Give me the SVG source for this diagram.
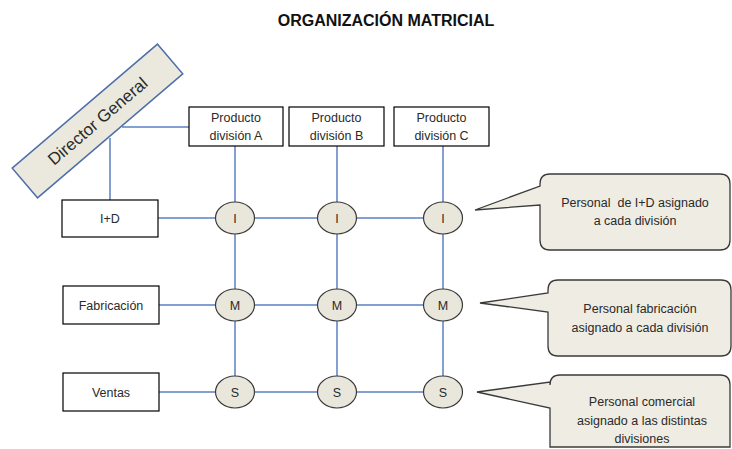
<svg xmlns="http://www.w3.org/2000/svg" width="732" height="449" viewBox="0 0 732 449">
<style>
text{font-family:"Liberation Sans",Arial,sans-serif;fill:#2a2a2a;text-anchor:middle}
.t{font-size:12.5px}
.box{fill:#fff;stroke:#000;stroke-width:1.2}
.c{fill:#e9e7dc;stroke:#3a3a3a;stroke-width:1.2}
.ln{stroke:#5b80c0;stroke-width:1.5;fill:none}
.call{fill:#eeece3;stroke:#3a3a3a;stroke-width:1.3}
</style>
<rect width="732" height="449" fill="#fff"/>
<text x="386" y="26" style="font-size:16px;font-weight:bold;fill:#111">ORGANIZACIÓN MATRICIAL</text>
<g id="connectors" class="ln">
<line x1="122" y1="127" x2="189" y2="127"/>
<line x1="110" y1="138" x2="110" y2="200"/>
<line x1="235" y1="146" x2="235" y2="392"/>
<line x1="337" y1="146" x2="337" y2="392"/>
<line x1="443" y1="146" x2="443" y2="392"/>
<line x1="158" y1="218" x2="443" y2="218"/>
<line x1="159" y1="305" x2="443" y2="305"/>
<line x1="159" y1="392" x2="443" y2="392"/>
</g>
<g id="director">
<rect x="2" y="101.5" width="191" height="39" class="c" style="fill:#ebe9de;stroke:#4f6fa8;stroke-width:1.5" transform="rotate(-40.5 97.5 121)"/>
<text x="97.5" y="127" style="font-size:17px" transform="rotate(-40.5 97.5 121)">Director General</text>
</g>
<g id="prodA"><rect x="189" y="107" width="94" height="39" class="box"/><text class="t" x="236" y="122">Producto</text><text class="t" x="236" y="140">división A</text></g>
<g id="prodB"><rect x="289" y="107" width="95" height="39" class="box"/><text class="t" x="336.5" y="122">Producto</text><text class="t" x="336.5" y="140">división B</text></g>
<g id="prodC"><rect x="394" y="107" width="95" height="39" class="box"/><text class="t" x="441.5" y="122">Producto</text><text class="t" x="441.5" y="140">división C</text></g>
<g id="id"><rect x="62" y="200" width="96" height="37" class="box"/><text class="t" x="110" y="223">I+D</text></g>
<g id="fab"><rect x="63" y="286" width="96" height="38" class="box"/><text class="t" x="111" y="310">Fabricación</text></g>
<g id="ventas"><rect x="63" y="373" width="96" height="38" class="box"/><text class="t" x="111" y="397">Ventas</text></g>
<g id="iA"><ellipse cx="235" cy="218" rx="19.5" ry="16" class="c"/><text class="t" x="235" y="222.5">I</text></g>
<g id="iB"><ellipse cx="337" cy="218" rx="19.5" ry="16" class="c"/><text class="t" x="337" y="222.5">I</text></g>
<g id="iC"><ellipse cx="443" cy="218" rx="19.5" ry="16" class="c"/><text class="t" x="443" y="222.5">I</text></g>
<g id="mA"><ellipse cx="235" cy="305" rx="19.5" ry="16" class="c"/><text class="t" x="235" y="309.5">M</text></g>
<g id="mB"><ellipse cx="337" cy="305" rx="19.5" ry="16" class="c"/><text class="t" x="337" y="309.5">M</text></g>
<g id="mC"><ellipse cx="443" cy="305" rx="19.5" ry="16" class="c"/><text class="t" x="443" y="309.5">M</text></g>
<g id="sA"><ellipse cx="235" cy="392" rx="19.5" ry="16" class="c"/><text class="t" x="235" y="396.5">S</text></g>
<g id="sB"><ellipse cx="337" cy="392" rx="19.5" ry="16" class="c"/><text class="t" x="337" y="396.5">S</text></g>
<g id="sC"><ellipse cx="443" cy="392" rx="19.5" ry="16" class="c"/><text class="t" x="443" y="396.5">S</text></g>
<g id="callout1">
<path class="call" d="M550,174 H720 Q730,174 730,184 V240 Q730,250 720,250 H550 Q540,250 540,240 V205 L475,210 L540,186 V184 Q540,174 550,174 Z"/>
<text class="t" x="635" y="207" xml:space="preserve" style="white-space:pre">Personal  de I+D asignado</text>
<text class="t" x="635" y="225">a cada división</text>
</g>
<g id="callout2">
<path class="call" d="M558,280 H721 Q731,280 731,290 V346 Q731,356 721,356 H558 Q548,356 548,346 V312 L480,303 L548,293 V290 Q548,280 558,280 Z"/>
<text class="t" x="640" y="313">Personal fabricación</text>
<text class="t" x="640" y="332">asignado a cada división</text>
</g>
<g id="callout3">
<path class="call" d="M560,375 H720 Q730,375 730,385 V447 H550 V408 L477,392 L550,382 V385 Q550,375 560,375 Z"/>
<text class="t" x="642" y="406">Personal comercial</text>
<text class="t" x="642" y="425">asignado a las distintas</text>
<text class="t" x="642" y="443">divisiones</text>
</g>
</svg>
